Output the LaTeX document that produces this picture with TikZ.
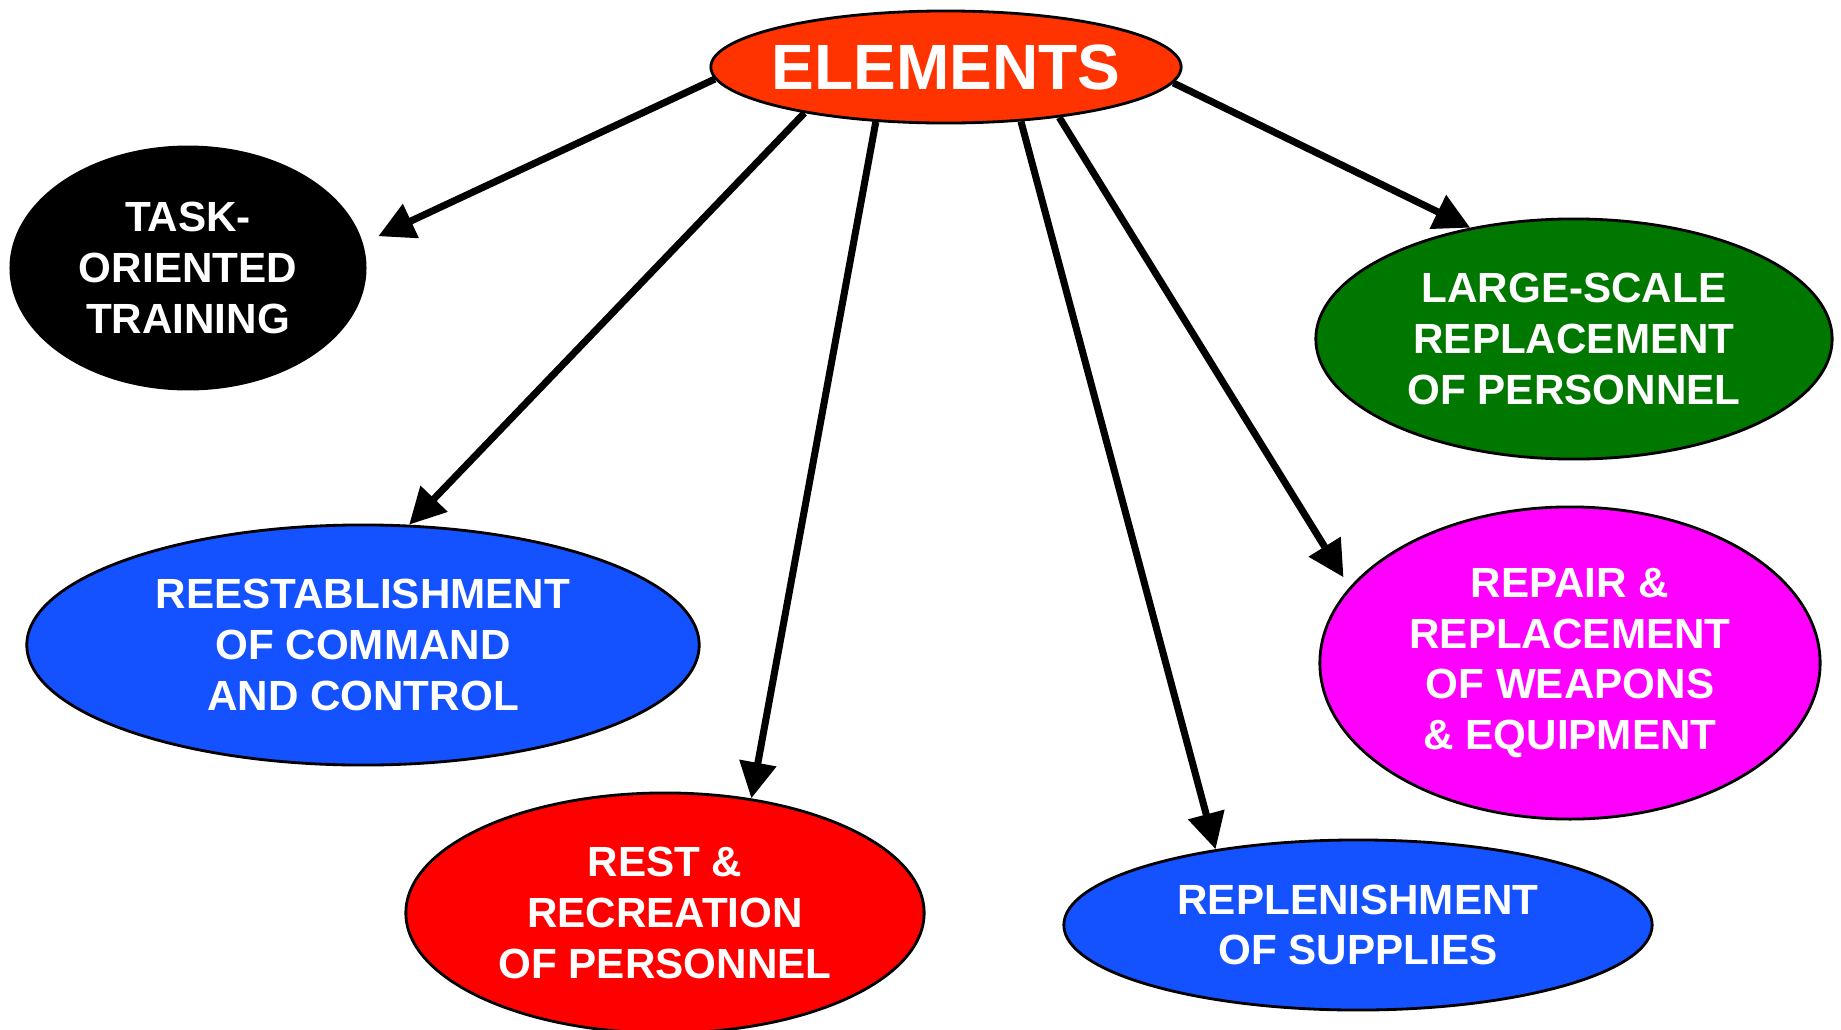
\documentclass[tikz,border=0pt]{standalone}
\usepackage{fontspec}
\setmainfont{Liberation Sans}
\usetikzlibrary{arrows.meta,shapes.geometric}

\definecolor{elred}{RGB}{255,51,0}
\definecolor{cblue}{RGB}{20,82,255}
\definecolor{cgreen}{RGB}{0,120,0}
\definecolor{cred}{RGB}{255,0,0}
\definecolor{cmag}{RGB}{255,0,255}

\tikzset{
  blob/.style n args={3}{ellipse, draw=black, line width=0.8pt, fill=#1,
    minimum width=#2, minimum height=#3, inner sep=0pt, text=white,
    align=center, font=\fontsize{12}{14.4}\selectfont\bfseries},
  arr/.style={line width=2pt, -{Triangle[length=3.6mm,width=3.6mm]}}
}

\begin{document}
\begin{tikzpicture}[x=0.01cm, y=-0.01cm]
    \useasboundingbox (0,0) rectangle (1841,1030);

    % centre
    \node[blob={elred}{47mm}{11.2mm}, inner xsep=-2mm,
          font=\fontsize{18.2}{22}\selectfont\bfseries] (el) at (946,67) {ELEMENTS};

    % left side
    \node[blob={black}{35.4mm}{24.2mm}] (task) at (188,268) {TASK-\\ORIENTED\\TRAINING};
    \node[blob={cblue}{67.2mm}{24mm}] (cmd) at (363,645) {REESTABLISHMENT\\OF COMMAND\\AND CONTROL};
    \node[blob={cred}{51.8mm}{24mm}] (rest) at (665,913) {REST \&\\RECREATION\\OF PERSONNEL};

    % right side
    \node[blob={cblue}{58.8mm}{17mm}] (supply) at (1358,925) {REPLENISHMENT\\OF SUPPLIES};
    \node[blob={cmag}{50mm}{31.2mm}] (repair) at (1570,663) {REPAIR \&\\REPLACEMENT\\OF WEAPONS\\\& EQUIPMENT};
    \node[blob={cgreen}{51.6mm}{24mm}] (large) at (1574,339) {LARGE-SCALE\\REPLACEMENT\\OF PERSONNEL};

    % arrows
    \foreach \s/\t/\e/\g in {183.6/task/8.6/1.7mm, 198.8/cmd/69.2/0mm,
                             218.5/rest/53.2/0mm, 324.2/supply/152.8/0mm,
                             336.9/repair/161.1/1.15mm, 356.2/large/133.4/0mm}
        \draw[arr, shorten >=\g] (el.\s) -- (\t.\e);
\end{tikzpicture}
\end{document}
